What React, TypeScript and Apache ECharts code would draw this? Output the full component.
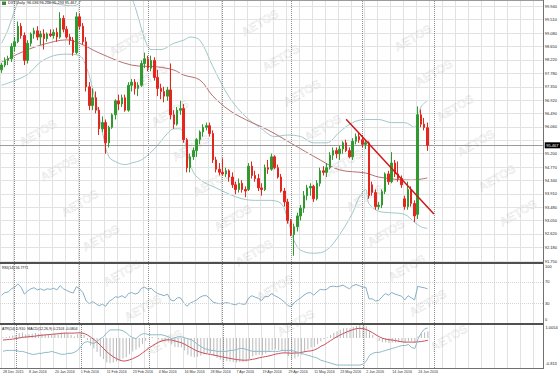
import React, { useEffect, useRef } from "react";
import * as echarts from "echarts";

// ---------- data ----------
const N_SLOTS = 167; // bars + empty future space
const dateTicks = ["28 Dec 2015", "8 Jan 2016", "20 Jan 2016", "1 Feb 2016", "11 Feb 2016", "23 Feb 2016", "4 Mar 2016", "16 Mar 2016", "28 Mar 2016", "7 Apr 2016", "19 Apr 2016", "29 Apr 2016", "11 May 2016", "23 May 2016", "2 Jun 2016", "14 Jun 2016", "24 Jun 2016"];
const monthStarts = [4, 24, 45, 68, 89, 111, 133];

const openP = [97.90, 98.05, 98.20, 98.25, 98.65, 98.80, 99.30, 99.00, 98.20, 98.75, 99.05, 99.15, 98.95, 99.05, 98.90, 99.05, 99.00, 99.10, 98.95, 99.55, 99.20, 98.95, 98.85, 98.45, 99.60, 99.30, 98.80, 97.35, 96.75, 97.00, 96.60, 96.00, 96.20, 95.55, 96.05, 96.45, 96.90, 96.80, 97.00, 96.60, 97.40, 97.50, 97.30, 97.40, 98.10, 98.25, 97.95, 98.20, 97.65, 97.30, 97.20, 97.05, 97.25, 96.45, 96.15, 96.60, 96.65, 95.65, 94.75, 95.10, 95.30, 95.65, 95.90, 96.05, 96.10, 95.85, 95.00, 94.70, 94.60, 94.55, 94.65, 94.45, 94.20, 94.05, 94.25, 94.05, 94.05, 94.80, 94.50, 94.40, 94.10, 94.05, 94.75, 94.70, 95.10, 94.75, 94.45, 94.00, 93.65, 93.05, 92.60, 92.85, 93.20, 93.45, 93.85, 94.10, 94.15, 93.75, 94.25, 94.65, 94.60, 94.75, 95.15, 95.30, 95.20, 95.35, 95.55, 95.30, 95.10, 95.60, 95.75, 95.65, 95.50, 95.55, 94.20, 93.95, 93.50, 93.55, 93.98, 94.55, 94.30, 94.90, 94.55, 94.40, 93.75, 93.50, 94.05, 93.60, 93.25, 96.45, 96.15, 96.036];
const highP = [98.12, 98.30, 98.35, 98.75, 98.95, 99.45, 99.40, 99.10, 98.85, 99.10, 99.25, 99.30, 99.15, 99.20, 99.10, 99.20, 99.20, 99.25, 99.75, 99.65, 99.30, 99.05, 98.95, 99.75, 99.70, 99.40, 98.95, 97.50, 97.30, 97.20, 96.70, 96.40, 96.30, 96.10, 96.50, 96.95, 97.10, 97.10, 97.10, 97.50, 97.60, 97.60, 97.50, 98.20, 98.45, 98.35, 98.35, 98.30, 97.90, 97.45, 97.35, 97.35, 98.10, 96.60, 96.70, 96.90, 96.80, 95.70, 95.20, 95.40, 95.70, 95.95, 96.15, 96.20, 96.20, 95.95, 95.10, 94.90, 95.05, 94.75, 94.70, 94.60, 94.30, 94.40, 94.35, 94.15, 94.90, 94.95, 94.65, 94.55, 94.25, 94.85, 95.00, 95.20, 95.15, 94.85, 94.55, 94.10, 93.75, 93.10, 92.95, 93.30, 93.55, 94.00, 94.20, 94.25, 94.20, 94.35, 94.75, 94.80, 94.90, 95.25, 95.40, 95.40, 95.45, 95.60, 95.65, 95.40, 95.70, 95.85, 95.90, 95.80, 95.65, 95.60, 94.30, 94.05, 93.65, 94.05, 94.60, 94.65, 95.25, 95.00, 94.95, 94.50, 93.85, 94.30, 94.15, 93.70, 96.72, 96.62, 96.35, 96.200];
const lowP = [97.80, 97.98, 98.05, 98.15, 98.50, 98.75, 98.90, 98.05, 98.10, 98.65, 98.90, 98.85, 98.70, 98.55, 98.80, 98.95, 98.90, 98.80, 98.90, 99.10, 98.90, 98.70, 98.35, 98.40, 99.20, 98.70, 97.20, 96.60, 96.60, 96.50, 95.80, 95.90, 95.20, 95.40, 96.00, 96.30, 96.60, 96.70, 96.55, 96.55, 97.20, 97.10, 97.05, 97.35, 97.95, 97.85, 97.85, 97.55, 97.05, 96.95, 96.85, 96.90, 96.30, 96.00, 96.10, 96.45, 95.55, 94.60, 94.60, 95.00, 95.10, 95.50, 95.75, 95.95, 95.75, 94.90, 94.60, 94.50, 94.50, 94.45, 94.30, 94.10, 93.90, 93.95, 93.95, 93.80, 94.00, 94.40, 94.30, 94.00, 93.85, 94.00, 94.55, 94.65, 94.70, 94.40, 93.95, 93.50, 92.95, 92.55, 91.92, 92.70, 93.05, 93.30, 93.70, 93.85, 93.65, 93.70, 94.15, 94.50, 94.45, 94.70, 95.00, 95.05, 95.00, 95.20, 95.25, 95.05, 95.00, 95.50, 95.55, 95.40, 95.35, 93.75, 93.85, 93.40, 93.40, 93.45, 93.90, 94.20, 94.25, 94.45, 94.30, 94.10, 93.40, 93.40, 93.50, 93.00, 93.10, 96.05, 95.95, 95.293];
const closeP = [98.05, 98.20, 98.25, 98.65, 98.80, 99.30, 99.00, 98.20, 98.75, 99.05, 99.15, 98.95, 99.05, 98.90, 99.05, 99.00, 99.10, 98.95, 99.55, 99.20, 98.95, 98.85, 98.45, 99.60, 99.30, 98.80, 97.35, 96.75, 97.00, 96.60, 96.00, 96.20, 95.55, 96.05, 96.45, 96.90, 96.80, 97.00, 96.60, 97.40, 97.50, 97.30, 97.40, 98.10, 98.25, 97.95, 98.20, 97.65, 97.30, 97.20, 97.05, 97.25, 96.45, 96.15, 96.60, 96.65, 95.65, 94.75, 95.10, 95.30, 95.65, 95.90, 96.05, 96.10, 95.85, 95.00, 94.70, 94.60, 94.55, 94.65, 94.45, 94.20, 94.05, 94.25, 94.05, 94.00, 94.80, 94.50, 94.40, 94.10, 94.05, 94.75, 94.70, 95.10, 94.75, 94.45, 94.00, 93.65, 93.05, 92.60, 92.85, 93.20, 93.45, 93.85, 94.10, 94.15, 93.75, 94.25, 94.65, 94.60, 94.75, 95.15, 95.30, 95.20, 95.35, 95.55, 95.30, 95.10, 95.60, 95.75, 95.65, 95.50, 95.55, 93.85, 93.95, 93.50, 93.55, 93.98, 94.55, 94.30, 94.90, 94.55, 94.40, 94.20, 93.50, 94.05, 93.60, 93.20, 96.45, 96.15, 96.04, 95.467];

// indicator lines: [bar index, value]
const upperBand = [[0, 98.75], [2, 99.2], [4, 99.8], [6, 100.2], [10, 100.3], [14, 100.1], [18, 100.0], [22, 99.95], [26, 100.3], [30, 100.8], [36, 100.8], [40, 100.2], [42, 99.6], [44, 98.9], [46, 98.55], [49, 98.55], [53, 98.75], [56, 98.85], [58, 98.95], [61, 98.85], [65, 98.0], [70, 97.02], [75, 96.4], [80, 96.0], [84, 95.75], [88, 95.8], [92, 95.75], [96, 95.55], [100, 95.55], [104, 95.9], [108, 96.2], [112, 96.3], [116, 96.3], [120, 96.2], [124, 96.2], [127, 96.05], [129, 96.7], [131, 96.9]];
const lowerBand = [[0, 97.4], [4, 97.55], [8, 97.75], [12, 98.15], [16, 98.35], [20, 98.4], [24, 98.35], [26, 98.0], [28, 97.3], [30, 96.4], [31, 95.9], [33, 95.1], [36, 94.9], [38, 94.85], [40, 94.9], [43, 95.0], [46, 95.25], [49, 95.6], [51, 95.85], [53, 96.0], [55, 96.0], [57, 95.3], [59, 94.6], [62, 94.3], [66, 94.1], [70, 93.9], [74, 93.75], [78, 93.7], [82, 93.7], [86, 93.6], [88, 93.1], [90, 92.4], [92, 92.1], [96, 92.0], [100, 92.1], [104, 92.6], [108, 93.3], [110, 93.8], [112, 94.05], [113, 93.6], [116, 93.35], [120, 93.3], [124, 93.25], [127, 93.0], [129, 92.85], [131, 92.8]];
const maLine = [[0, 98.15], [7, 98.5], [13, 98.72], [20, 98.86], [24, 98.75], [30, 98.44], [40, 98.05], [48, 97.99], [53, 97.89], [56, 97.73], [61, 97.57], [65, 97.05], [70, 96.6], [75, 96.3], [82, 95.96], [89, 95.54], [98, 95.0], [104, 94.68], [112, 94.58], [116, 94.45], [126, 94.35], [131, 94.42]];
const trendLine = [[106, 96.31], [133, 93.26]];
const lastPrice = 95.467;

const priceGrid = [91.75, 92.18, 92.62, 93.05, 93.48, 93.91, 94.34, 94.77, 95.2, 95.63, 96.06, 96.49, 96.92, 97.35, 97.78, 98.22, 98.65, 99.08, 99.51, 99.94];
const priceLabels = [91.75, 92.18, 92.62, 93.05, 93.48, 93.91, 94.34, 94.77, 95.2, 96.06, 96.49, 96.92, 97.35, 97.78, 98.22, 98.65, 99.08, 99.51, 99.94];

const rsiValues = [45, 50, 51, 57, 60, 66, 60, 47, 53, 57, 59, 55, 57, 54, 57, 56, 58, 55, 63, 57, 54, 51, 49, 61, 57, 50, 34, 29, 33, 29, 25, 28, 24, 33, 37, 42, 41, 44, 40, 48, 50, 47, 49, 58, 60, 56, 58, 52, 48, 46, 44, 47, 36, 34, 40, 40, 31, 24, 30, 33, 36, 41, 44, 44, 39, 32, 30, 29, 29, 31, 30, 28, 27, 30, 28, 28, 40, 44, 41, 39, 35, 43, 42, 48, 44, 41, 37, 32, 26, 23, 31, 36, 40, 45, 49, 50, 45, 51, 56, 55, 56, 61, 62, 61, 62, 64, 60, 57, 63, 65, 63, 60, 60, 38, 38, 34, 35, 42, 48, 45, 50, 47, 45, 43, 36, 44, 40, 36, 62, 60, 59, 56.78];
const rsiLevels = [30, 70];
const rsiLabels = [0, 30, 70, 100];

const macdMain = [0.02, 0.03, 0.05, 0.08, 0.10, 0.16, 0.18, 0.12, 0.12, 0.14, 0.16, 0.14, 0.14, 0.12, 0.13, 0.12, 0.13, 0.11, 0.18, 0.17, 0.14, 0.10, 0.05, 0.13, 0.15, 0.10, -0.08, -0.25, -0.35, -0.47, -0.62, -0.70, -0.82, -0.84, -0.82, -0.78, -0.74, -0.68, -0.64, -0.54, -0.45, -0.39, -0.32, -0.20, -0.09, -0.03, 0.03, 0.01, -0.05, -0.09, -0.13, -0.12, -0.22, -0.30, -0.31, -0.32, -0.42, -0.56, -0.62, -0.64, -0.63, -0.59, -0.54, -0.50, -0.52, -0.60, -0.67, -0.72, -0.76, -0.77, -0.78, -0.80, -0.82, -0.80, -0.80, -0.79, -0.70, -0.62, -0.58, -0.56, -0.58, -0.52, -0.47, -0.40, -0.38, -0.40, -0.44, -0.50, -0.60, -0.70, -0.68, -0.63, -0.56, -0.47, -0.38, -0.31, -0.29, -0.21, -0.11, -0.04, 0.02, 0.10, 0.17, 0.22, 0.27, 0.32, 0.33, 0.32, 0.36, 0.40, 0.42, 0.40, 0.39, 0.22, 0.10, -0.02, -0.10, -0.14, -0.15, -0.17, -0.15, -0.15, -0.14, -0.14, -0.16, -0.12, -0.12, -0.14, 0.05, 0.15, 0.19, 0.2103];
const macdSignal = [-0.07, -0.06, -0.05, -0.04, -0.02, 0.00, 0.02, 0.03, 0.04, 0.05, 0.06, 0.08, 0.09, 0.10, 0.11, 0.12, 0.13, 0.14, 0.15, 0.16, 0.16, 0.16, 0.16, 0.17, 0.17, 0.15, 0.10, 0.03, -0.05, -0.14, -0.24, -0.35, -0.46, -0.55, -0.63, -0.69, -0.74, -0.77, -0.76, -0.73, -0.69, -0.64, -0.58, -0.50, -0.42, -0.33, -0.27, -0.20, -0.14, -0.10, -0.07, -0.06, -0.07, -0.10, -0.13, -0.16, -0.21, -0.27, -0.33, -0.39, -0.44, -0.48, -0.51, -0.53, -0.55, -0.57, -0.59, -0.62, -0.64, -0.66, -0.68, -0.70, -0.72, -0.73, -0.74, -0.74, -0.73, -0.71, -0.69, -0.66, -0.64, -0.62, -0.60, -0.57, -0.54, -0.52, -0.50, -0.50, -0.50, -0.51, -0.50, -0.50, -0.48, -0.46, -0.44, -0.43, -0.40, -0.35, -0.28, -0.23, -0.16, -0.09, -0.02, 0.04, 0.10, 0.15, 0.20, 0.24, 0.28, 0.31, 0.32, 0.31, 0.28, 0.23, 0.17, 0.10, 0.04, -0.01, -0.04, -0.06, -0.07, -0.09, -0.11, -0.13, -0.14, -0.14, -0.14, -0.14, -0.13, -0.12, -0.10, -0.0804];
const atrValues = [0.67, 0.68, 0.68, 0.68, 0.68, 0.67, 0.67, 0.66, 0.65, 0.64, 0.64, 0.65, 0.65, 0.66, 0.66, 0.67, 0.66, 0.65, 0.64, 0.64, 0.65, 0.65, 0.66, 0.68, 0.72, 0.76, 0.77, 0.76, 0.75, 0.77, 0.80, 0.82, 0.86, 0.89, 0.89, 0.89, 0.89, 0.88, 0.86, 0.83, 0.81, 0.80, 0.83, 0.85, 0.85, 0.84, 0.84, 0.84, 0.84, 0.84, 0.83, 0.82, 0.80, 0.81, 0.82, 0.82, 0.81, 0.80, 0.79, 0.77, 0.74, 0.72, 0.70, 0.69, 0.68, 0.68, 0.67, 0.67, 0.67, 0.67, 0.68, 0.68, 0.69, 0.70, 0.70, 0.69, 0.68, 0.67, 0.67, 0.67, 0.67, 0.67, 0.67, 0.67, 0.67, 0.67, 0.68, 0.68, 0.68, 0.68, 0.67, 0.66, 0.65, 0.64, 0.63, 0.62, 0.61, 0.60, 0.58, 0.57, 0.56, 0.55, 0.54, 0.53, 0.53, 0.53, 0.53, 0.53, 0.53, 0.53, 0.53, 0.54, 0.57, 0.63, 0.65, 0.66, 0.66, 0.67, 0.68, 0.69, 0.70, 0.71, 0.72, 0.73, 0.73, 0.74, 0.71, 0.70, 0.80, 0.86, 0.90, 0.91];

const titleMain = "DXY,Daily  96.036 96.200 95.293 95.467";
const titleRsi = "RSI(14) 56.7771";
const titleLow = "ATR(14) 0.910  MACD(12,26,9) 0.2103 -0.0804";
const lowPanelLabels = ["1.0054", "-0.813"];

// ---------- styling ----------
const FONT = "Liberation Sans, Arial, sans-serif";
const GRID_LINE = "#e2e2e2";
const SEP_LINE = { color: "#8c8c8c", width: 1, type: [1, 1] as any };

const slots = Array.from({ length: N_SLOTS }, (_, i) => String(i));

function monthSepData() {
  return monthStarts.map((i) => ({ xAxis: i, lineStyle: SEP_LINE }));
}

function watermarks() {
  const els: any[] = [];
  for (let i = -3; i <= 4; i++) {
    for (let j = -3; j <= 12; j++) {
      const cx = 260 + 153 * i + 21 * j;
      const cy = 23 + 15 * i + 35 * j;
      // keep every rotated label fully inside the picture
      if (cx < 25 || cx > 535 || cy < 19 || cy > 357) continue;
      els.push({
        type: "text",
        x: cx,
        y: cy,
        rotation: Math.PI / 6,
        silent: true,
        z: 1,
        style: {
          text: "AETOS",
          fill: "rgba(0,0,0,0.05)",
          stroke: "rgba(0,0,0,0.10)",
          lineWidth: 0.6,
          font: "bold 12px " + FONT,
          align: "center",
          verticalAlign: "middle",
          textAlign: "center",
          textVerticalAlign: "middle",
        },
      });
    }
  }
  return els;
}

function buildOption() {
  const xAxes = [0, 1, 2].map((g) => ({
    type: "category",
    gridIndex: g,
    data: slots,
    boundaryGap: true,
    axisLine: { show: false },
    axisTick: { show: false },
    axisLabel:
      g === 2
        ? {
            show: true,
            interval: (i: number) => i % 8 === 0 && i / 8 < dateTicks.length,
            formatter: (_v: string, i: number) => dateTicks[i / 8] ?? "",
            fontSize: 3.6,
            color: "#333",
            align: "left",
            margin: 2,
            fontFamily: FONT,
          }
        : { show: false },
    splitLine: {
      show: true,
      interval: (i: number) => i % 4 === 0,
      lineStyle: { color: GRID_LINE, width: 1 },
    },
  }));

  return {
    animation: false,
    backgroundColor: "#ffffff",
    textStyle: { fontFamily: FONT },
    grid: [
      { left: 0, right: 17, top: 0, height: 262 },
      { left: 0, right: 17, top: 264, height: 59 },
      { left: 0, right: 17, top: 325, height: 43 },
    ],
    xAxis: xAxes,
    yAxis: [
      {
        type: "value",
        gridIndex: 0,
        position: "right",
        min: 91.718,
        max: 100.142,
        axisLine: { show: false },
        axisTick: { show: false },
        splitLine: { show: false },
        axisLabel: {
          customValues: priceLabels,
          formatter: (v: number) => v.toFixed(3),
          fontSize: 4,
          color: "#222",
          margin: 2,
          fontFamily: FONT,
        },
      },
      {
        type: "value",
        gridIndex: 1,
        position: "right",
        min: -7.5,
        max: 103.8,
        axisLine: { show: false },
        axisTick: { show: false },
        splitLine: { show: false },
        axisLabel: {
          customValues: rsiLabels,
          formatter: (v: number) => String(v),
          fontSize: 4,
          color: "#222",
          margin: 2,
          fontFamily: FONT,
        },
      },
      { type: "value", gridIndex: 2, min: -1.0, max: 0.43, show: false },
      { type: "value", gridIndex: 2, min: 0.5, max: 0.94, show: false },
    ],
    graphic: {
      elements: [
        ...watermarks(),
        { type: "line", silent: true, z: 20, shape: { x1: 0, y1: 0.5, x2: 543, y2: 0.5 }, style: { stroke: "#9a9a9a", lineWidth: 1 } },
        { type: "line", silent: true, z: 20, shape: { x1: 0, y1: 263, x2: 543, y2: 263 }, style: { stroke: "#505050", lineWidth: 2 } },
        { type: "line", silent: true, z: 20, shape: { x1: 0, y1: 324, x2: 543, y2: 324 }, style: { stroke: "#505050", lineWidth: 2 } },
        { type: "line", silent: true, z: 20, shape: { x1: 0, y1: 368.5, x2: 543.5, y2: 368.5 }, style: { stroke: "#707070", lineWidth: 1 } },
        { type: "line", silent: true, z: 20, shape: { x1: 543.5, y1: 0, x2: 543.5, y2: 369 }, style: { stroke: "#707070", lineWidth: 1 } },
        { type: "rect", silent: true, z: 20, shape: { x: 2, y: 1.5, width: 4, height: 3.5 }, style: { fill: "#3a8a3a" } },
        { type: "text", silent: true, z: 21, x: 8, y: 1.2, style: { text: titleMain, fill: "#111", font: "3.8px " + FONT } },
        { type: "text", silent: true, z: 21, x: 2, y: 265.5, style: { text: titleRsi, fill: "#111", font: "3.6px " + FONT } },
        { type: "text", silent: true, z: 21, x: 2, y: 326.5, style: { text: titleLow, fill: "#111", font: "3.6px " + FONT } },
        { type: "text", silent: true, z: 21, x: 545.5, y: 325, style: { text: lowPanelLabels[0], fill: "#222", font: "4px " + FONT } },
        { type: "text", silent: true, z: 21, x: 545.5, y: 361.5, style: { text: lowPanelLabels[1], fill: "#222", font: "4px " + FONT } },
      ],
    },
    series: [
      {
        type: "line",
        xAxisIndex: 0,
        yAxisIndex: 0,
        data: closeP,
        showSymbol: false,
        silent: true,
        z: 1,
        lineStyle: { opacity: 0 },
        markLine: {
          silent: true,
          symbol: ["none", "none"],
          label: { show: false },
          lineStyle: { color: GRID_LINE, width: 1, type: "solid" },
          data: [...priceGrid.map((v) => ({ yAxis: v })), ...monthSepData()],
        },
      },
      {
        type: "candlestick",
        xAxisIndex: 0,
        yAxisIndex: 0,
        z: 6,
        barWidth: 2,
        data: openP.map((o, i) => [o, closeP[i], lowP[i], highP[i]]),
        itemStyle: {
          color: "#2f9a2f",
          color0: "#e5261f",
          borderColor: "#2f9a2f",
          borderColor0: "#e5261f",
          borderWidth: 1,
        },
        markLine: {
          silent: true,
          symbol: ["none", "none"],
          lineStyle: { color: "#9c9c9c", width: 1, type: "solid" },
          label: {
            show: true,
            position: "end",
            formatter: () => lastPrice.toFixed(3),
            backgroundColor: "#000",
            color: "#fff",
            fontSize: 4,
            padding: [1, 1.5],
            distance: 2,
            fontFamily: FONT,
          },
          data: [{ yAxis: lastPrice }],
        },
      },
      { type: "line", xAxisIndex: 0, yAxisIndex: 0, z: 4, data: upperBand, smooth: 0.35, showSymbol: false, lineStyle: { color: "#9fc8c8", width: 1 } },
      { type: "line", xAxisIndex: 0, yAxisIndex: 0, z: 4, data: lowerBand, smooth: 0.35, showSymbol: false, lineStyle: { color: "#9fc8c8", width: 1 } },
      { type: "line", xAxisIndex: 0, yAxisIndex: 0, z: 4, data: maLine, smooth: 0.35, showSymbol: false, lineStyle: { color: "#b86f6f", width: 1 } },
      { type: "line", xAxisIndex: 0, yAxisIndex: 0, z: 8, data: trendLine, showSymbol: false, lineStyle: { color: "#cc1a1a", width: 1.5 } },
      {
        type: "line",
        xAxisIndex: 1,
        yAxisIndex: 1,
        z: 4,
        data: rsiValues,
        showSymbol: false,
        lineStyle: { color: "#86aec4", width: 1 },
        markLine: {
          silent: true,
          symbol: ["none", "none"],
          label: { show: false },
          lineStyle: { color: "#d4d4d4", width: 1, type: [1, 1] },
          data: [...rsiLevels.map((v) => ({ yAxis: v })), ...monthSepData()],
        },
      },
      {
        type: "bar",
        xAxisIndex: 2,
        yAxisIndex: 2,
        z: 3,
        barWidth: 1,
        data: macdMain,
        itemStyle: { color: "#b9b9b9" },
        markLine: {
          silent: true,
          symbol: ["none", "none"],
          label: { show: false },
          data: monthSepData(),
        },
      },
      { type: "line", xAxisIndex: 2, yAxisIndex: 2, z: 5, data: macdSignal, showSymbol: false, lineStyle: { color: "#c8505a", width: 1 } },
      { type: "line", xAxisIndex: 2, yAxisIndex: 3, z: 5, data: atrValues, showSymbol: false, lineStyle: { color: "#8dbac6", width: 1 } },
    ],
  };
}

export default function App() {
  const ref = useRef<HTMLDivElement>(null);
  useEffect(() => {
    if (!ref.current) return;
    const chart = echarts.init(ref.current, null, { renderer: "svg" });
    chart.setOption(buildOption() as any);
    return () => chart.dispose();
  }, []);
  return (
    <div
      ref={ref}
      style={{ position: "fixed", left: 0, top: 0, width: 560, height: 376, background: "#fff" }}
    />
  );
}
